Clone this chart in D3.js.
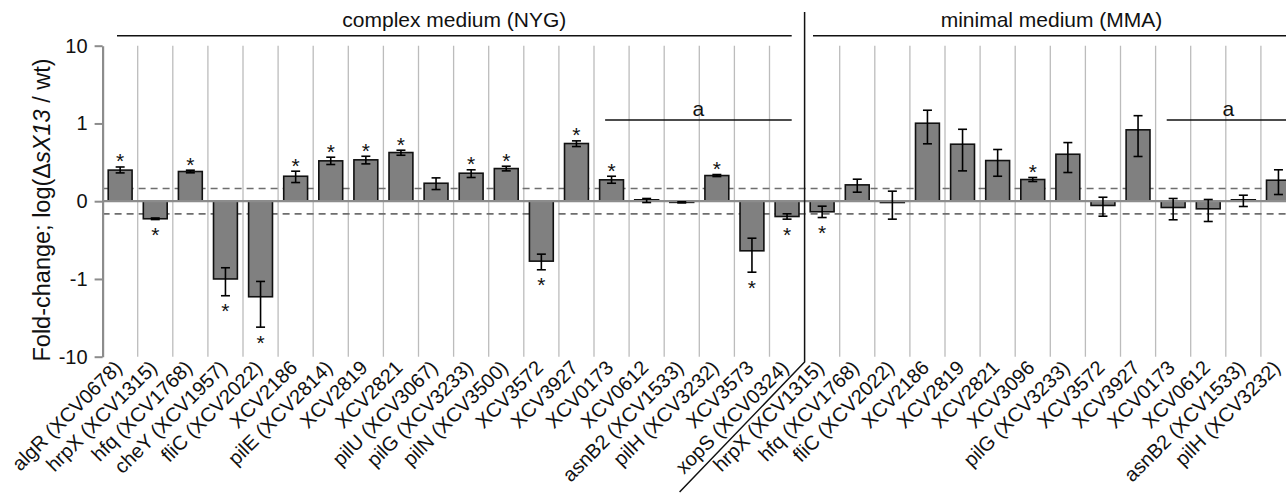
<!DOCTYPE html>
<html>
<head>
<meta charset="utf-8">
<script src="https://cdn.jsdelivr.net/npm/d3@7"></script>
<style>
    body { margin: 0; background: #fff; }
    svg { display: block; font-family: "Liberation Sans", Arial, sans-serif; }
</style>
</head>
<body>
<svg id="chart"></svg>
<script>
// ---- data (log10 fold-change, error bar top / bottom, significance) ----
const nygGenes = ["algR (XCV0678)", "hrpX (XCV1315)", "hfq (XCV1768)", "cheY (XCV1957)", "fliC (XCV2022)",
    "XCV2186", "pilE (XCV2814)", "XCV2819", "XCV2821", "pilU (XCV3067)", "pilG (XCV3233)", "pilN (XCV3500)",
    "XCV3572", "XCV3927", "XCV0173", "XCV0612", "asnB2 (XCV1533)", "pilH (XCV3232)", "XCV3573", "xopS (XCV0324)"]
const nygValues = [0.40, -0.226, 0.382, -1.0, -1.229, 0.321, 0.519, 0.532, 0.626, 0.231, 0.36, 0.42,
    -0.771, 0.742, 0.275, 0.018, -0.015, 0.33, -0.638, -0.197]
const nygErrTop = [0.44, -0.216, 0.399, -0.856, -1.032, 0.386, 0.566, 0.578, 0.656, 0.30, 0.404, 0.45,
    -0.681, 0.776, 0.321, 0.035, -0.008, 0.343, -0.476, -0.162]
const nygErrBottom = [0.364, -0.236, 0.365, -1.216, -1.62, 0.24, 0.472, 0.48, 0.591, 0.15, 0.305, 0.39,
    -0.882, 0.703, 0.231, -0.017, -0.022, 0.317, -0.913, -0.231]
const nygSignif = [1, 1, 1, 1, 1, 1, 1, 1, 1, 0, 1, 1, 1, 1, 1, 0, 0, 1, 1, 1]

const mmaGenes = ["hrpX (XCV1315)", "hfq (XCV1768)", "fliC (XCV2022)", "XCV2186", "XCV2819", "XCV2821",
    "XCV3096", "pilG (XCV3233)", "XCV3572", "XCV3927", "XCV0173", "XCV0612", "asnB2 (XCV1533)", "pilH (XCV3232)"]
const mmaValues = [-0.136, 0.21, -0.017, 1.003, 0.733, 0.523, 0.279, 0.604, -0.055, 0.918, -0.081, -0.098, 0.018, 0.27]
const mmaErrTop = [-0.064, 0.283, 0.129, 1.17, 0.925, 0.665, 0.305, 0.754, 0.051, 1.10, 0.035, 0.022, 0.077, 0.404]
const mmaErrBottom = [-0.21, 0.116, -0.231, 0.738, 0.39, 0.321, 0.253, 0.369, -0.193, 0.575, -0.239, -0.261, -0.068, 0.086]
const mmaSignif = [1, 0, 0, 0, 0, 0, 1, 0, 0, 0, 0, 0, 0, 0]

const yTicks = [-2, -1, 0, 1, 2]
const yTickLabels = ["-10", "-1", "0", "1", "10"]
const threshold = 0.163   // dashed lines at +/- threshold

const mediumLabels = ["complex medium (NYG)", "minimal medium (MMA)"]
const bracketLabel = "a"
const bracketStart = ["XCV0173", "XCV0173"]   // "a" bracket starts at this gene in each medium

// ---- layout ----
const W = 1286, H = 494
const axisX = 102.6, step = 35.1
const yTop = 45.7, yBottom = 356.7
const font = 20

const svg = d3.select('#chart')
    .attr('width', W)
    .attr('height', H)
    .style('overflow', 'hidden')

const yScale = d3.scaleLinear()
    .domain([-2, 2])
    .range([yBottom, yTop])

const leftEnd = axisX + nygGenes.length * step
const xNyg = d3.scaleBand()
    .domain(nygGenes)
    .range([axisX, leftEnd])
    .paddingInner(0.32)
    .paddingOuter(0.16)
const xMma = d3.scaleBand()
    .domain(mmaGenes)
    .range([leftEnd, leftEnd + mmaGenes.length * step])
    .paddingInner(0.32)
    .paddingOuter(0.16)

const groups = [
    { x: xNyg, genes: nygGenes, vals: nygValues, top: nygErrTop, bot: nygErrBottom, sig: nygSignif },
    { x: xMma, genes: mmaGenes, vals: mmaValues, top: mmaErrTop, bot: mmaErrBottom, sig: mmaSignif },
]

// vertical grid lines between categories
const gridG = svg.append('g')
groups.forEach((g) => {
    const r = g.x.range()
    g.genes.forEach((d, i) => {
        if (i == 0) return
        const gx = r[0] + i * g.x.step()
        gridG.append('line')
            .attr('x1', gx).attr('x2', gx)
            .attr('y1', yTop).attr('y2', yBottom)
            .attr('stroke', '#bcbcbc')
            .attr('stroke-width', 1.3)
    })
})

// dashed threshold lines
svg.append('g').selectAll('line')
    .data([threshold, -threshold])
    .join('line')
    .attr('x1', axisX).attr('x2', W)
    .attr('y1', d => yScale(d)).attr('y2', d => yScale(d))
    .attr('stroke', '#6e6e6e')
    .attr('stroke-width', 1.6)
    .attr('stroke-dasharray', '7 5')

// bars
groups.forEach((g) => {
    svg.append('g').selectAll('rect')
        .data(g.genes)
        .join('rect')
        .attr('x', d => g.x(d))
        .attr('width', g.x.bandwidth())
        .attr('y', (d, i) => Math.min(yScale(g.vals[i]), yScale(0)))
        .attr('height', (d, i) => Math.abs(yScale(g.vals[i]) - yScale(0)))
        .attr('fill', '#808080')
        .attr('stroke', '#111')
        .attr('stroke-width', 1.6)
})

// zero line
svg.append('line')
    .attr('x1', axisX).attr('x2', W)
    .attr('y1', yScale(0)).attr('y2', yScale(0))
    .attr('stroke', '#8c8c8c')
    .attr('stroke-width', 2.2)

// error bars and stars
groups.forEach((g) => {
    const eg = svg.append('g').attr('stroke', '#000').attr('stroke-width', 1.6)
    g.genes.forEach((d, i) => {
        const cx = g.x(d) + g.x.bandwidth() / 2
        const yt = yScale(g.top[i]), yb = yScale(g.bot[i])
        eg.append('line').attr('x1', cx).attr('x2', cx).attr('y1', yt).attr('y2', yb)
        eg.append('line').attr('x1', cx - 4.5).attr('x2', cx + 4.5).attr('y1', yt).attr('y2', yt)
        eg.append('line').attr('x1', cx - 4.5).attr('x2', cx + 4.5).attr('y1', yb).attr('y2', yb)
        if (g.sig[i]) {
            svg.append('text')
                .attr('x', cx)
                .attr('y', g.vals[i] >= 0 ? yt + 1.5 : yb + 22.5)
                .attr('text-anchor', 'middle')
                .attr('font-size', 21)
                .attr('fill', '#111')
                .text('*')
        }
    })
})

// y axis
const yAxis = d3.axisLeft(yScale)
    .tickValues(yTicks)
    .tickFormat((d, i) => yTickLabels[i])
    .tickSize(8)
    .tickSizeOuter(0)
    .tickPadding(7)
const yAxisG = svg.append('g')
    .attr('transform', `translate(${axisX}, 0)`)
    .call(yAxis)
yAxisG.select('.domain').attr('stroke', '#8c8c8c').attr('stroke-width', 2.2)
yAxisG.selectAll('.tick line').attr('stroke', '#8c8c8c').attr('stroke-width', 2)
yAxisG.selectAll('.tick text')
    .attr('font-size', font)
    .attr('font-family', '"Liberation Sans", Arial, sans-serif')
    .attr('fill', '#111')

// y title
const title = svg.append('text')
    .attr('transform', `translate(50, 210) rotate(-90)`)
    .attr('text-anchor', 'middle')
    .attr('font-size', 23.5)
    .attr('fill', '#111')
title.append('tspan').text('Fold-change; log(Δ')
title.append('tspan').attr('font-style', 'italic').text('sX13')
title.append('tspan').text(' / wt)')

// x labels
groups.forEach((g) => {
    svg.append('g').selectAll('text')
        .data(g.genes)
        .join('text')
        .attr('transform', d => `translate(${g.x(d) + g.x.bandwidth() / 2 + 3}, 369) rotate(-45)`)
        .attr('text-anchor', 'end')
        .attr('font-size', font)
        .attr('fill', '#111')
        .text(d => d)
})

// medium separator and its diagonal under the labels
svg.append('path')
    .attr('d', `M${leftEnd},12 L${leftEnd},362 L${leftEnd - 125},492`)
    .attr('fill', 'none')
    .attr('stroke', '#111')
    .attr('stroke-width', 1.5)

// medium headers
groups.forEach((g, k) => {
    const r = g.x.range()
    const x1 = r[0] + (k == 0 ? 14.4 : 8.4)
    const x2 = k == 0 ? r[1] - 12.9 : r[1] - 6
    svg.append('line')
        .attr('x1', x1).attr('x2', x2)
        .attr('y1', 35.7).attr('y2', 35.7)
        .attr('stroke', '#111').attr('stroke-width', 1.5)
    svg.append('text')
        .attr('x', (x1 + x2) / 2)
        .attr('y', 27)
        .attr('text-anchor', 'middle')
        .attr('font-size', 21)
        .attr('fill', '#111')
        .text(mediumLabels[k])

    // "a" bracket
    const bx1 = g.x(bracketStart[k]) + 5.5
    const bx2 = k == 0 ? r[1] - 12.9 : r[1] - 6
    svg.append('line')
        .attr('x1', bx1).attr('x2', bx2)
        .attr('y1', 120).attr('y2', 120)
        .attr('stroke', '#111').attr('stroke-width', 1.5)
    svg.append('text')
        .attr('x', (bx1 + bx2) / 2)
        .attr('y', 115.5)
        .attr('text-anchor', 'middle')
        .attr('font-size', 21)
        .attr('fill', '#111')
        .text(bracketLabel)
})
</script>
</body>
</html>
